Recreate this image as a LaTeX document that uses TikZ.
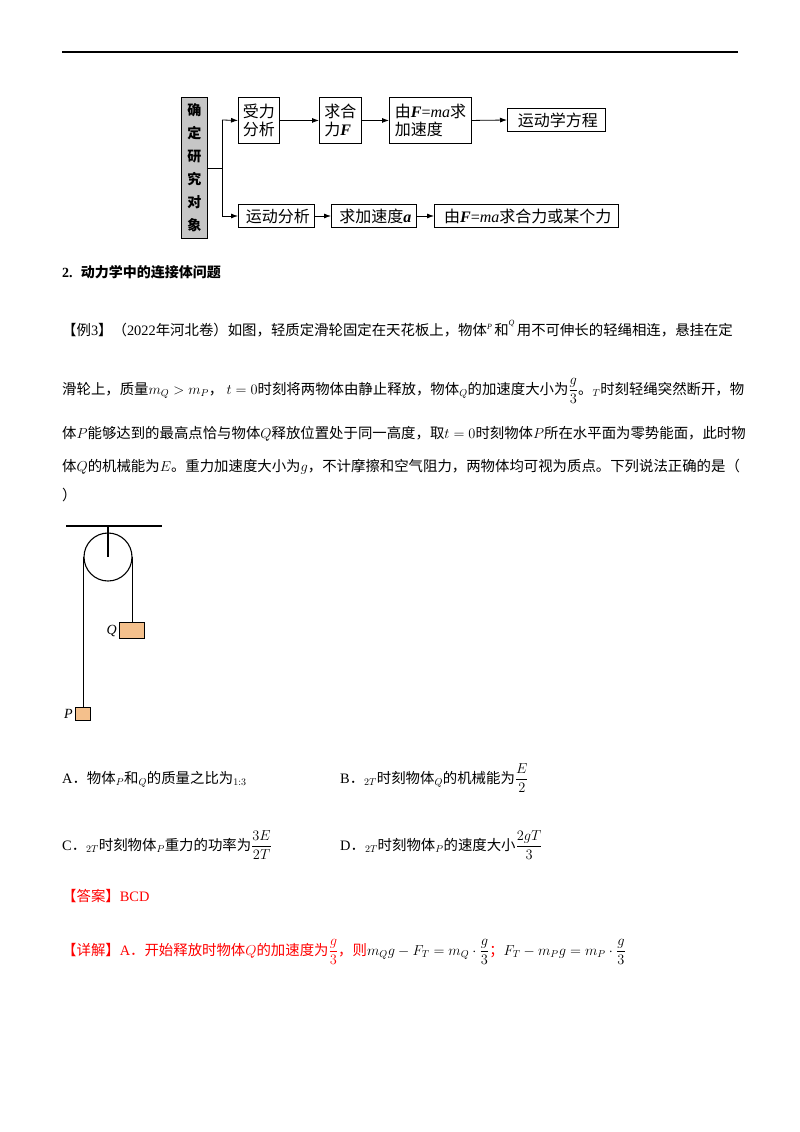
\RequirePackage{fix-cm}
\documentclass[tikz,border=0pt]{standalone}
\usepackage{amsmath}
\usepackage{fontspec}
\setmainfont{Liberation Serif}
\newfontfamily\cjk{Noto Sans CJK SC}
\usetikzlibrary{arrows.meta}
\definecolor{boxor}{HTML}{F4C08C}
\definecolor{redt}{HTML}{FF0000}
\tikzset{
 fbox/.style={draw,line width=0.9pt,inner sep=0pt,align=left,font=\fontsize{16}{18}\selectfont\cjk},
 arr/.style={-{Latex[length=7pt,width=5pt]},line width=0.8pt},
 txt/.style={anchor=base west,inner sep=0pt,font=\fontsize{14.4}{16}\selectfont\cjk},
 rope/.style={line width=1.1pt}
}
\newcommand{\bi}[1]{{\rmfamily\bfseries\itshape #1}}
\newcommand{\ri}[1]{{\rmfamily\itshape #1}}
\newcommand{\rr}[1]{{\rmfamily #1}}
\begin{document}
\begin{tikzpicture}[x=1pt,y=-1pt]
\useasboundingbox (0,0) rectangle (800,1132);
\draw[line width=1.4pt] (62,52) -- (738,52);
% flowchart
\node[fbox,fill=gray!45,minimum width=26pt,minimum height=141pt,anchor=north west,align=center,font=\fontsize{14}{23}\selectfont\cjk\bfseries] (obj) at (181,97) {确\\定\\研\\究\\对\\象};
\node[fbox,minimum width=41pt,minimum height=46pt,anchor=north west] (a1) at (238,97) {受力\\分析};
\node[fbox,minimum width=42pt,minimum height=46pt,anchor=north west] (a2) at (319,97) {求合\\力\bi{F}};
\node[fbox,minimum width=82pt,minimum height=46pt,anchor=north west] (a3) at (389,97) {由\bi{F}\rr{=}\ri{ma}求\\加速度};
\node[fbox,minimum width=98pt,minimum height=23pt,anchor=west] (a4) at (507,120) {\,运动学方程};
\node[fbox,minimum width=76pt,minimum height=23pt,anchor=west] (b1) at (238,216) {\,运动分析};
\node[fbox,minimum width=85pt,minimum height=23pt,anchor=west] (b2) at (331,216) {\,求加速度\bi{a}};
\node[fbox,minimum width=184pt,minimum height=23pt,anchor=west] (b3) at (434,216) {\,由\bi{F}\rr{=}\ri{ma}求合力或某个力};
\coordinate (br) at (222,168);
\draw[line width=0.8pt] (obj.east|-br) -- (br);
\draw[line width=0.8pt] (222,120) -- (222,216);
\draw[arr] (222,120) -- (a1.west);
\draw[arr] (222,216) -- (b1.west);
\draw[arr] (a1.east) -- (a2.west);
\draw[arr] (a2.east) -- (a3.west);
\draw[arr] (a3.east) -- (a4.west);
\draw[arr] (b1.east) -- (b2.west);
\draw[arr] (b2.east) -- (b3.west);
% heading
\node[txt,font=\fontsize{14}{16}\selectfont\cjk\bfseries] (h) at (62,277) {\rr{2.}\; 动力学中的连接体问题};
% paragraph
\node[txt] (p1) at (62,335) {【例\rr{3}】（\rr{2022}年河北卷）如图，轻质定滑轮固定在天花板上，物体\raisebox{6pt}{\ri{\footnotesize P}}\,和\raisebox{10pt}{\ri{\footnotesize Q}}\,用不可伸长的轻绳相连，悬挂在定};
\node[txt] (p2) at (62,394) {滑轮上，质量$m_Q>m_P$， $t=0$时刻将两物体由静止释放，物体$_Q$的加速度大小为$\dfrac{g}{3}$。$_T$时刻轻绳突然断开，物};
\node[txt] (p3) at (62,438) {体$P$能够达到的最高点恰与物体$Q$释放位置处于同一高度，取$t=0$时刻物体$P$所在水平面为零势能面，此时物};
\node[txt] (p4) at (62,471) {体$Q$的机械能为$E$。重力加速度大小为$g$，不计摩擦和空气阻力，两物体均可视为质点。下列说法正确的是（};
\node[txt] (p5) at (62,500) {）};
% pulley
\draw[rope] (66,526) -- (162,526);
\node[draw,circle,line width=1.1pt,minimum size=48pt,inner sep=0pt] (pul) at (108,557) {};
\draw[rope] (108,526) -- (pul.center);
\node[draw,fill=boxor,line width=1pt,minimum width=25pt,minimum height=16pt,inner sep=0pt,anchor=north] (Q) at (132,622) {};
\node[draw,fill=boxor,line width=1pt,minimum width=15pt,minimum height=13pt,inner sep=0pt,anchor=north] (P) at (83,707) {};
\draw[rope] (pul.west) -- (pul.west|-P.north);
\draw[rope] (pul.east) -- (pul.east|-Q.north);
\node[anchor=east,inner sep=2pt,font=\fontsize{14}{16}\selectfont\rmfamily\itshape] (ql) at (Q.west) {Q};
\node[anchor=east,inner sep=2pt,font=\fontsize{14}{16}\selectfont\rmfamily\itshape] (pl) at (P.west) {P};
% options
\node[txt] (oa) at (62,783) {\rr{A}．物体$_P$和$_Q$的质量之比为$_{1:3}$};
\node[txt] (ob) at (340,783) {\rr{B}．$_{2T}$时刻物体$_Q$的机械能为$\dfrac{E}{2}$};
\node[txt] (oc) at (62,850) {\rr{C}．$_{2T}$时刻物体$_P$重力的功率为$\dfrac{3E}{2T}$};
\node[txt] (od) at (340,850) {\rr{D}．$_{2T}$时刻物体$_P$的速度大小$\dfrac{2gT}{3}$};
\node[txt,text=redt] (ans) at (62,901) {【答案】\rr{BCD}};
\node[txt,text=redt] (det) at (62,955) {【详解】\rr{A}．开始释放时物体$Q$的加速度为$\dfrac{g}{3}$，则\textcolor{black}{$m_Qg-F_T=m_Q\cdot\dfrac{g}{3}$}；\textcolor{black}{$F_T-m_Pg=m_P\cdot\dfrac{g}{3}$}};
\end{tikzpicture}
\end{document}
